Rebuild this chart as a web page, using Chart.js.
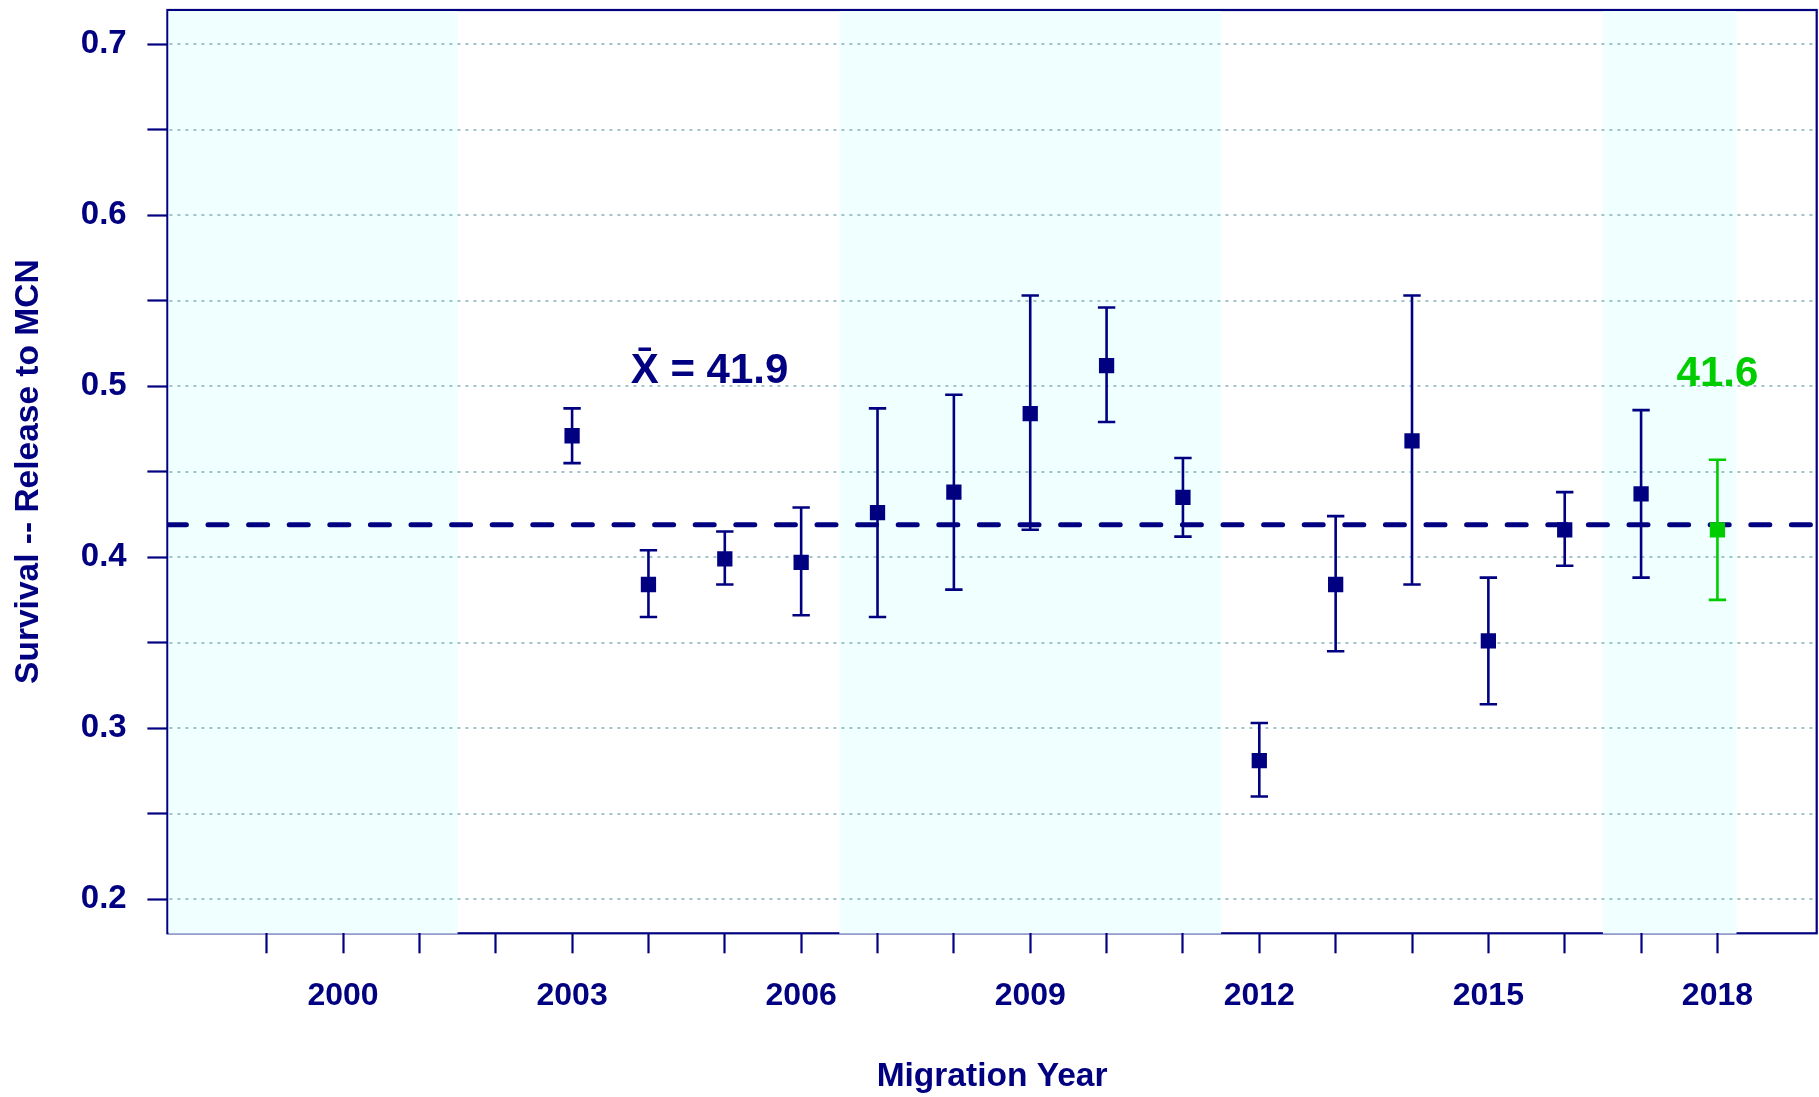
<!DOCTYPE html>
<html>
<head>
<meta charset="utf-8">
<title>Survival -- Release to MCN</title>
<script src="https://cdn.jsdelivr.net/npm/chart.js@4/dist/chart.umd.min.js"></script>
<style>
  html, body { margin: 0; padding: 0; background: #ffffff; }
  canvas { display: block; }
</style>
</head>
<body>
<canvas id="chart" width="1819" height="1097"></canvas>
<script>
// Annual survival estimates (release to MCN) with confidence limits
const years    = [2003, 2004, 2005, 2006, 2007, 2008, 2009, 2010, 2011, 2012, 2013, 2014, 2015, 2016, 2017, 2018];
const survival = [0.471, 0.384, 0.399, 0.397, 0.426, 0.438, 0.484, 0.512, 0.435, 0.281, 0.384, 0.468, 0.351, 0.416, 0.437, 0.416];
const upperCI  = [0.487, 0.404, 0.415, 0.429, 0.487, 0.495, 0.553, 0.546, 0.458, 0.303, 0.424, 0.553, 0.388, 0.438, 0.486, 0.457];
const lowerCI  = [0.455, 0.365, 0.384, 0.366, 0.365, 0.381, 0.416, 0.479, 0.412, 0.260, 0.345, 0.384, 0.314, 0.395, 0.388, 0.375];

// Long-term mean survival and the current year
const meanSurvival = 0.419;
const currentYear = 2018;

// Axis ticks and labels
const xTickYears  = [1999, 2000, 2001, 2002, 2003, 2004, 2005, 2006, 2007, 2008, 2009, 2010, 2011, 2012, 2013, 2014, 2015, 2016, 2017, 2018];
const xLabelYears = [2000, 2003, 2006, 2009, 2012, 2015, 2018];
const yTickValues = [0.2, 0.25, 0.3, 0.35, 0.4, 0.45, 0.5, 0.55, 0.6, 0.65, 0.7];
const yLabelValues = [0.2, 0.3, 0.4, 0.5, 0.6, 0.7];

// Alternating five-year background bands
const bandStart = [1997.7, 2006.5, 2016.5];
const bandEnd   = [2001.5, 2011.5, 2018.25];

const X_MIN = 1997.7, X_MAX = 2019.3;
const Y_MIN = 0.18,   Y_MAX = 0.72;

const NAVY  = '#000080';
const GREEN = '#00cd00';
const BAND  = '#f0ffff';
const GRID  = '#a2c2c8';
const FONT  = "'Liberation Sans', Arial, Helvetica, sans-serif";

const decorations = {
  id: 'decorations',
  beforeDraw(chart) {
    const { ctx, chartArea: a, scales: { x, y } } = chart;
    ctx.save();
    // plot frame
    ctx.strokeStyle = NAVY;
    ctx.lineWidth = 2.2;
    ctx.strokeRect(a.left, a.top, a.right - a.left, a.bottom - a.top);
    // background bands
    ctx.fillStyle = BAND;
    bandStart.forEach((s, i) => {
      const x0 = Math.max(x.getPixelForValue(s), a.left + 1.1);
      const x1 = Math.min(x.getPixelForValue(bandEnd[i]), a.right - 1.1);
      ctx.fillRect(x0, a.top + 1.1, x1 - x0, a.bottom - a.top - 0.7);
    });
    // dotted horizontal reference lines
    ctx.strokeStyle = GRID;
    ctx.lineWidth = 2;
    ctx.setLineDash([3, 5]);
    yTickValues.forEach(v => {
      const py = Math.round(y.getPixelForValue(v));
      ctx.beginPath();
      ctx.moveTo(a.left + 2, py);
      ctx.lineTo(a.right - 1.5, py);
      ctx.stroke();
    });
    ctx.restore();
  },
  afterDatasetDraw(chart, args) {
    // confidence interval whiskers, drawn above the mean line and below the markers
    if (args.index !== 1) return;
    const { ctx, scales: { x, y } } = chart;
    const cap = 8.7;
    ctx.save();
    ctx.lineWidth = 2.6;
    years.forEach((yr, i) => {
      const px = x.getPixelForValue(yr);
      const pt = y.getPixelForValue(upperCI[i]);
      const pb = y.getPixelForValue(lowerCI[i]);
      ctx.strokeStyle = yr === currentYear ? GREEN : NAVY;
      ctx.beginPath();
      ctx.moveTo(px, pt); ctx.lineTo(px, pb);
      ctx.moveTo(px - cap, pt); ctx.lineTo(px + cap, pt);
      ctx.moveTo(px - cap, pb); ctx.lineTo(px + cap, pb);
      ctx.stroke();
    });
    ctx.restore();
  },
  afterDatasetsDraw(chart) {
    const { ctx, scales: { x, y } } = chart;
    ctx.save();
    ctx.font = 'bold 42px ' + FONT;
    ctx.textAlign = 'center';
    ctx.textBaseline = 'alphabetic';
    // mean annotation
    ctx.fillStyle = NAVY;
    const meanText = 'X\u0304 = ' + (meanSurvival * 100).toFixed(1);
    ctx.fillText(meanText, x.getPixelForValue(2004.8), y.getPixelForValue(0.5017));
    // current-year estimate
    const ci = years.indexOf(currentYear);
    ctx.fillStyle = GREEN;
    ctx.fillText((survival[ci] * 100).toFixed(1), x.getPixelForValue(currentYear), y.getPixelForValue(0.5));
    ctx.restore();
  }
};

new Chart(document.getElementById('chart'), {
  type: 'scatter',
  data: {
    datasets: [
      {
        label: 'Survival',
        data: years.map((yr, i) => ({ x: yr, y: survival[i] })),
        pointStyle: 'rect',
        pointRadius: 10.8,
        pointHoverRadius: 10.8,
        pointBorderWidth: 0,
        pointBackgroundColor: years.map(yr => yr === currentYear ? GREEN : NAVY),
        showLine: false
      },
      {
        label: 'Mean',
        type: 'line',
        data: [{ x: X_MIN, y: meanSurvival }, { x: X_MAX, y: meanSurvival }],
        borderColor: NAVY,
        borderWidth: 5,
        borderDash: [19, 21.6],
        borderCapStyle: 'round',
        pointRadius: 0,
        fill: false
      }
    ]
  },
  options: {
    responsive: false,
    animation: false,
    devicePixelRatio: 1,
    events: [],
    layout: { autoPadding: false, padding: { top: 10, right: 2.3, left: 0, bottom: 0 } },
    plugins: { legend: { display: false }, tooltip: { enabled: false } },
    scales: {
      x: {
        type: 'linear',
        min: X_MIN,
        max: X_MAX,
        afterBuildTicks: s => { s.ticks = xTickYears.map(v => ({ value: v })); },
        afterFit: s => { s.height = 163.7; s.paddingLeft = 0; s.paddingRight = 0; },
        border: { display: false },
        grid: {
          drawOnChartArea: false,
          drawTicks: true,
          tickLength: 20,
          tickWidth: 2.2,
          tickColor: NAVY,
          color: NAVY
        },
        ticks: {
          autoSkip: false,
          maxRotation: 0,
          minRotation: 0,
          padding: 23.7,
          color: NAVY,
          font: { family: FONT, size: 32, weight: 'bold' },
          callback: v => xLabelYears.includes(v) ? String(v) : ''
        },
        title: {
          display: true,
          text: 'Migration Year',
          color: NAVY,
          font: { family: FONT, size: 33.5, weight: 'bold' },
          padding: { top: 0, bottom: 0.2 }
        }
      },
      y: {
        type: 'linear',
        min: Y_MIN,
        max: Y_MAX,
        afterBuildTicks: s => { s.ticks = yTickValues.map(v => ({ value: v })); },
        afterFit: s => { s.width = 167.4; s.paddingTop = 0; s.paddingBottom = 0; },
        border: { display: false },
        grid: {
          drawOnChartArea: false,
          drawTicks: true,
          tickLength: 20,
          tickWidth: 2.2,
          tickColor: NAVY,
          color: NAVY
        },
        ticks: {
          padding: 20.7,
          color: NAVY,
          font: { family: FONT, size: 33, weight: 'bold' },
          callback: v => yLabelValues.some(l => Math.abs(l - v) < 1e-9) ? v.toFixed(1) : ''
        },
        title: {
          display: true,
          text: 'Survival -- Release to MCN',
          color: NAVY,
          font: { family: FONT, size: 33.5, weight: 'bold' },
          padding: { top: 8.3, bottom: 0 }
        }
      }
    }
  },
  plugins: [decorations]
});
</script>
</body>
</html>
